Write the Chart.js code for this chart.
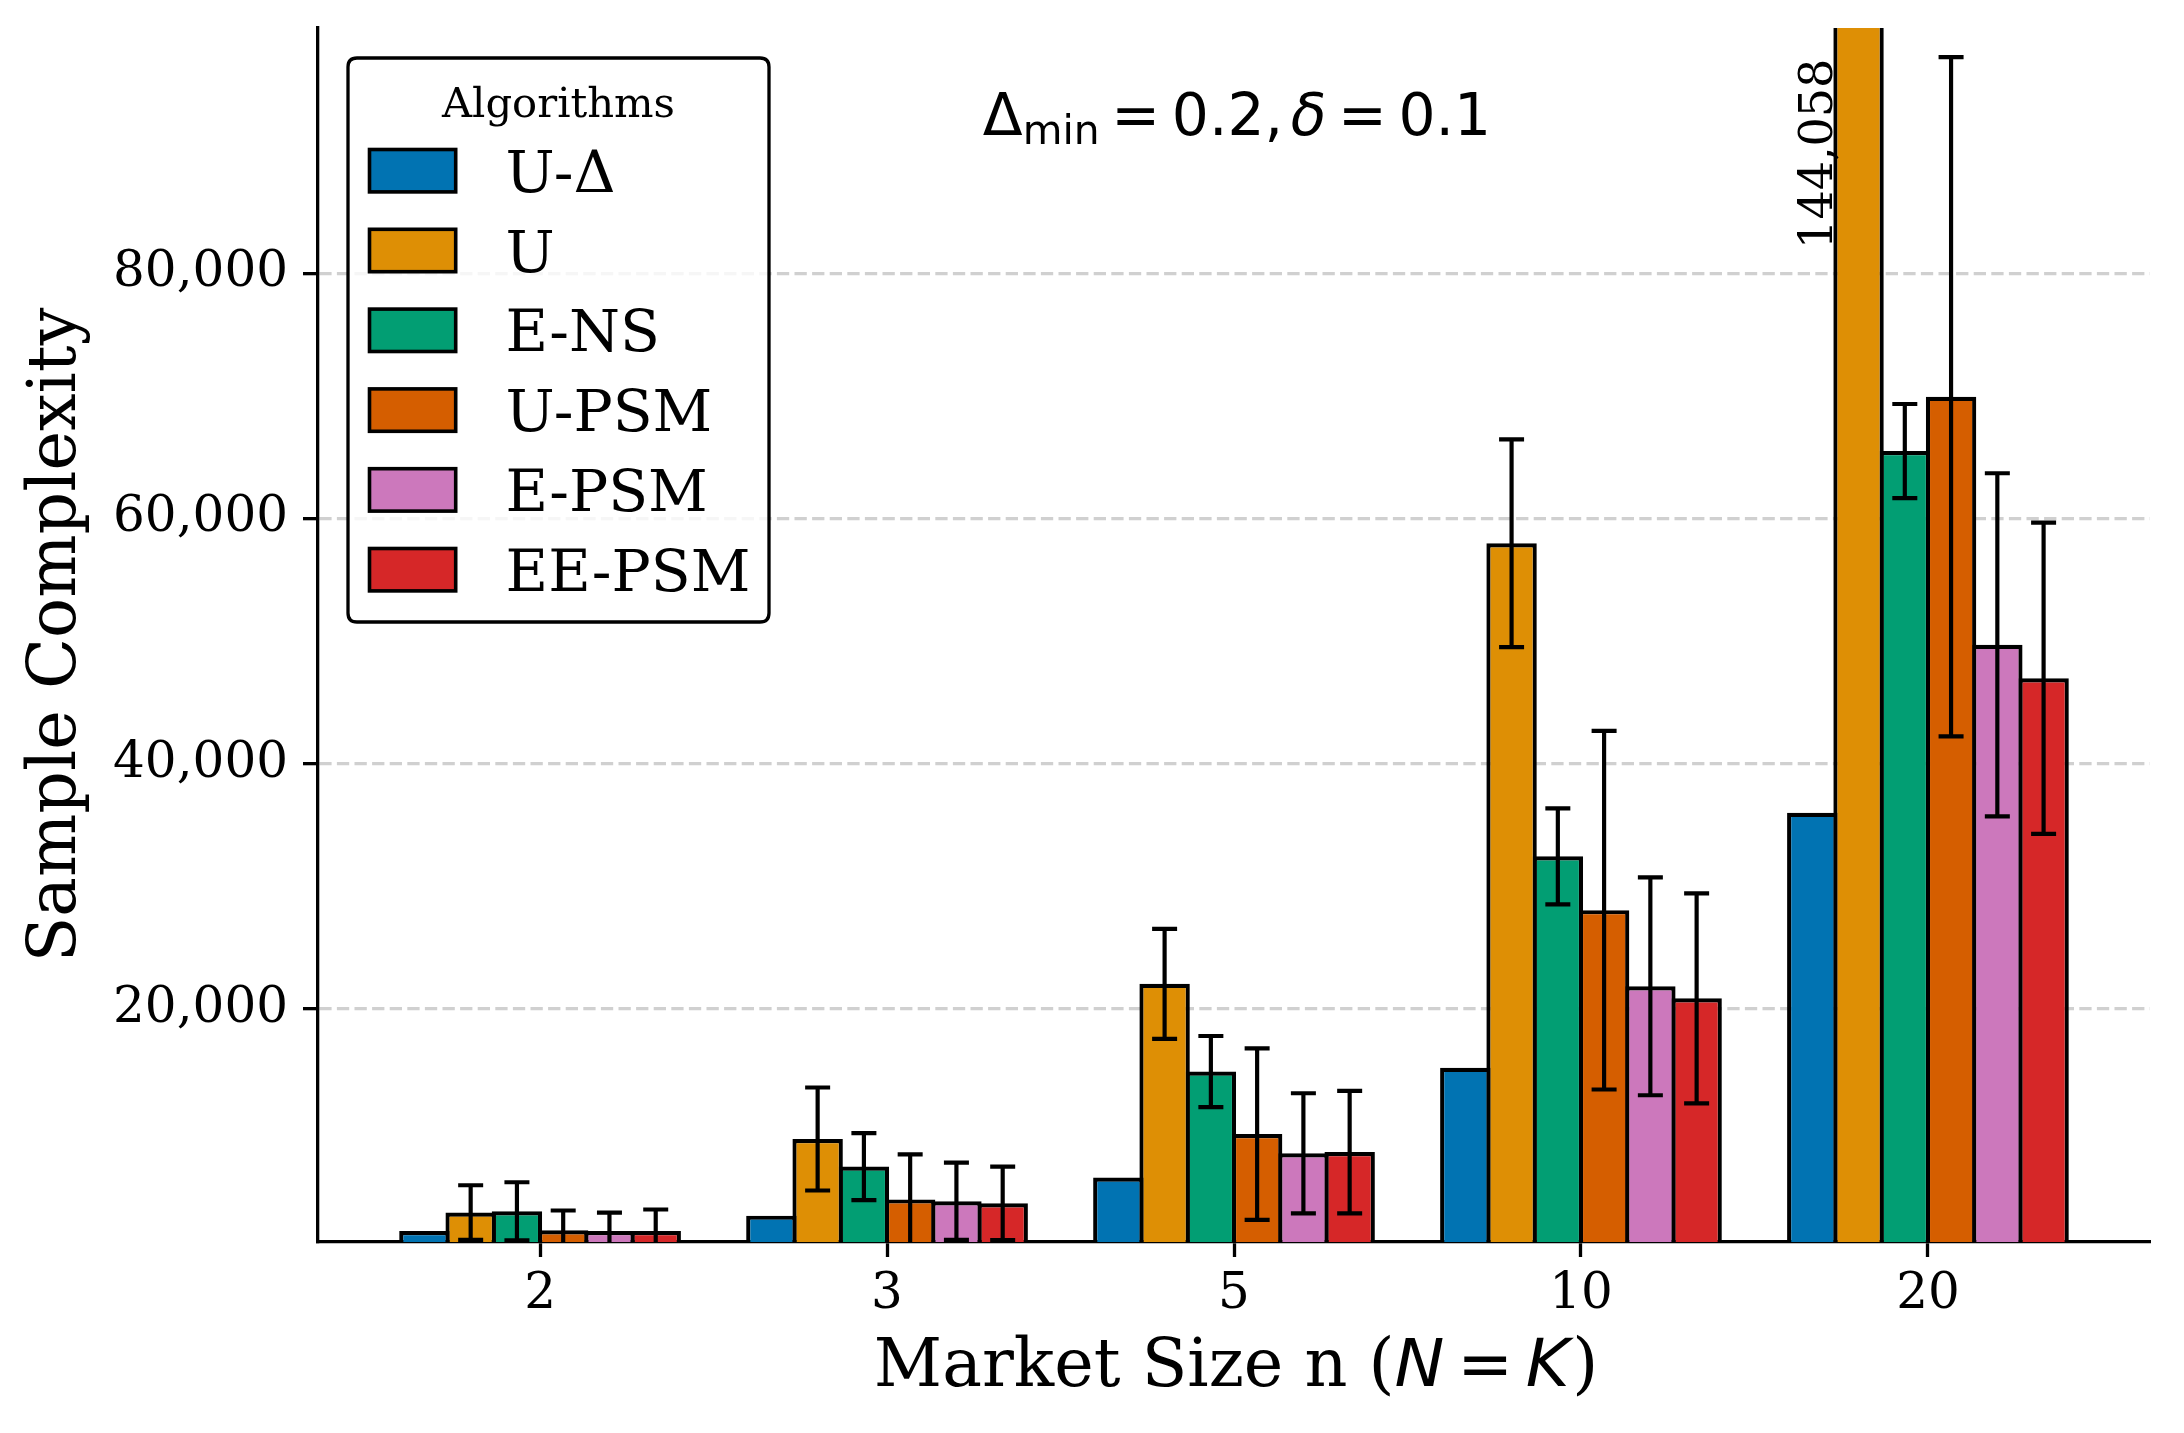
<!DOCTYPE html>
<html><head><meta charset="utf-8">
<script src="https://cdn.jsdelivr.net/npm/chart.js@4.4.1/dist/chart.umd.min.js"></script>
<style>html,body{margin:0;padding:0;background:#fff}#wrap{width:2184px;height:1433px}</style>
</head><body><div id="wrap"><canvas id="c" width="2184" height="1433"></canvas></div>
<script>
// ---- data ----
const categories = ['2', '3', '5', '10', '20'];
const seriesNames = ['U-Δ', 'U', 'E-NS', 'U-PSM', 'E-PSM', 'EE-PSM'];
const colors = ['#0173B2', '#DE8F05', '#029E73', '#D55E00', '#CC78BC', '#D62728'];
const uDeltaVals = [1900, 3150, 6250, 15200, 36000];
const uVals = [3400, 9400, 22050, 57980, 144058];
const uErr = [2230, 4200, 4490, 8475, 20000];
const ensVals = [3500, 7150, 14900, 32450, 65500];
const ensErr = [2370, 2735, 2900, 3915, 3835];
const upsmVals = [1950, 4470, 9800, 28060, 69930];
const upsmErr = [1620, 3670, 6990, 14625, 27700];
const epsmVals = [1900, 4320, 8230, 21850, 49700];
const epsmErr = [1500, 3150, 4900, 8885, 13990];
const eepsmVals = [1900, 4150, 8330, 20870, 46970];
const eepsmErr = [1750, 3000, 5000, 8565, 12690];
const yTicks = [20000, 40000, 60000, 80000];
const yMin = 1000, yMax = 100000;
const xMin = -0.64, xMax = 4.64;

const seriesValues = [uDeltaVals, uVals, ensVals, upsmVals, epsmVals, eepsmVals];
const seriesErrors = [null, uErr, ensErr, upsmErr, epsmErr, eepsmErr];

const SERIF = "'DejaVu Serif', serif";
const SANS = "'DejaVu Sans', sans-serif";
const BW = 4.17;           // bar edge width
const GROUP = 0.8;         // group fraction
const slotFrac = GROUP / seriesNames.length;

const datasets = seriesNames.map((name, s) => ({
  label: name,
  data: seriesValues[s].map((v, i) => ({ x: i, y: v })),
  errors: seriesErrors[s],
  backgroundColor: colors[s],
  borderColor: '#000',
  borderWidth: BW,
  inflateAmount: 0,
  categoryPercentage: GROUP,
  barPercentage: 1.09,
  clip: 0
}));

// ---- plugins ----
const errorBars = {
  id: 'errorBars',
  afterDatasetsDraw(chart) {
    const { ctx, chartArea: ca, scales: { x, y } } = chart;
    ctx.save();
    ctx.beginPath();
    ctx.rect(ca.left, ca.top, ca.right - ca.left, ca.bottom - ca.top);
    ctx.clip();
    ctx.strokeStyle = '#000';
    ctx.lineWidth = BW;
    const cap = 12.5;
    chart.data.datasets.forEach((ds, di) => {
      if (!ds.errors) return;
      const meta = chart.getDatasetMeta(di);
      meta.data.forEach((bar, i) => {
        const v = ds.data[i].y, e = ds.errors[i];
        const hi = y.getPixelForValue(v + e), lo = y.getPixelForValue(v - e);
        ctx.beginPath();
        ctx.moveTo(bar.x, lo); ctx.lineTo(bar.x, hi);
        ctx.moveTo(bar.x - cap, lo); ctx.lineTo(bar.x + cap, lo);
        ctx.moveTo(bar.x - cap, hi); ctx.lineTo(bar.x + cap, hi);
        ctx.stroke();
      });
    });
    ctx.restore();
    // labels for bars exceeding the axis
    ctx.save();
    ctx.fillStyle = '#000';
    ctx.font = '46px ' + SERIF;
    const slotPx = Math.abs(x.getPixelForValue(slotFrac) - x.getPixelForValue(0));
    chart.data.datasets.forEach((ds, di) => {
      const meta = chart.getDatasetMeta(di);
      meta.data.forEach((bar, i) => {
        const v = ds.data[i].y;
        if (v > yMax) {
          const bx = bar.x - slotPx / 2 - 3;
          const by = y.getPixelForValue(yMax * 0.975);
          ctx.save();
          ctx.translate(bx, by);
          ctx.rotate(-Math.PI / 2);
          ctx.textAlign = 'right';
          ctx.textBaseline = 'alphabetic';
          ctx.fillText(v.toLocaleString('en-US'), 0, 0);
          ctx.restore();
        }
      });
    });
    ctx.restore();
  }
};

function drawPieces(ctx, pieces, cx, baseline) {
  let total = 0;
  pieces.forEach(p => { ctx.font = p.font; p.w = ctx.measureText(p.text).width; total += (p.gap || 0) + p.w; });
  let xx = cx - total / 2;
  pieces.forEach(p => {
    xx += p.gap || 0;
    ctx.font = p.font;
    ctx.fillText(p.text, xx, baseline + (p.dy || 0));
    xx += p.w;
  });
}

const overlay = {
  id: 'overlay',
  afterDraw(chart) {
    const { ctx, chartArea: ca } = chart;
    ctx.save();
    ctx.fillStyle = '#000';
    ctx.textAlign = 'left';
    ctx.textBaseline = 'alphabetic';
    const cx = (ca.left + ca.right) / 2;
    // annotation
    const F = 58.3;
    drawPieces(ctx, [
      { text: 'Δ', font: `${F}px ${SANS}` },
      { text: 'min', font: `${F * 0.7}px ${SANS}`, dy: 9 },
      { text: '=', font: `${F}px ${SANS}`, gap: 0.2 * F },
      { text: '0.2,', font: `${F}px ${SANS}`, gap: 0.2 * F },
      { text: 'δ', font: `italic ${F}px ${SANS}`, gap: 0.13 * F },
      { text: '=', font: `${F}px ${SANS}`, gap: 0.2 * F },
      { text: '0.1', font: `${F}px ${SANS}`, gap: 0.2 * F }
    ], cx + 3, ca.top + 107);
    // x axis title
    const G = 66.7;
    drawPieces(ctx, [
      { text: 'Market Size n (', font: `${G}px ${SERIF}` },
      { text: 'N', font: `italic ${G}px ${SANS}` },
      { text: '=', font: `${G}px ${SANS}`, gap: 0.19 * G },
      { text: 'K', font: `italic ${G}px ${SANS}`, gap: 0.19 * G },
      { text: ')', font: `${G}px ${SERIF}`, gap: 0.04 * G }
    ], cx + 2, ca.bottom + 144);

    // legend
    const lx = ca.left + 30, ly = ca.top + 30, lw = 421, lh = 564, r = 9;
    ctx.beginPath();
    ctx.moveTo(lx + r, ly);
    ctx.lineTo(lx + lw - r, ly); ctx.quadraticCurveTo(lx + lw, ly, lx + lw, ly + r);
    ctx.lineTo(lx + lw, ly + lh - r); ctx.quadraticCurveTo(lx + lw, ly + lh, lx + lw - r, ly + lh);
    ctx.lineTo(lx + r, ly + lh); ctx.quadraticCurveTo(lx, ly + lh, lx, ly + lh - r);
    ctx.lineTo(lx, ly + r); ctx.quadraticCurveTo(lx, ly, lx + r, ly);
    ctx.closePath();
    ctx.fillStyle = 'rgba(255,255,255,0.8)';
    ctx.fill();
    ctx.strokeStyle = '#000';
    ctx.lineWidth = 3.3;
    ctx.stroke();
    ctx.fillStyle = '#000';
    ctx.font = `41.7px ${SERIF}`;
    ctx.textAlign = 'center';
    ctx.fillText('Algorithms', lx + lw / 2, ly + 58.5);
    ctx.textAlign = 'left';
    ctx.font = `58.3px ${SERIF}`;
    chart.data.datasets.forEach((ds, i) => {
      const cy = ly + 112.7 + i * 79.8;
      ctx.fillStyle = ds.backgroundColor;
      ctx.fillRect(lx + 21.5, cy - 21.2, 86.2, 42.4);
      ctx.strokeStyle = '#000';
      ctx.lineWidth = 3.6;
      ctx.strokeRect(lx + 21.5, cy - 21.2, 86.2, 42.4);
      ctx.fillStyle = '#000';
      ctx.fillText(ds.label, lx + 157.6, cy + 21);
    });
    ctx.restore();
  }
};

new Chart(document.getElementById('c'), {
  type: 'bar',
  data: { datasets },
  options: {
    responsive: false,
    devicePixelRatio: 1,
    animation: false,
    layout: { padding: { top: 28, right: 34, bottom: 0, left: 0 } },
    plugins: { legend: { display: false }, tooltip: { enabled: false }, title: { display: false } },
    scales: {
      x: {
        type: 'linear',
        offset: false,
        min: xMin,
        max: xMax,
        afterBuildTicks: s => { s.ticks = categories.map((_, i) => ({ value: i })); },
        afterFit: s => { s.height = 191; s.paddingLeft = 0; s.paddingRight = 0; },
        ticks: {
          autoSkip: false, maxRotation: 0, minRotation: 0,
          color: '#000', padding: 8,
          font: { family: SERIF, size: 50 },
          callback: v => categories[v]
        },
        grid: {
          display: true, offset: false, drawOnChartArea: false, drawTicks: true,
          tickLength: 15, tickColor: '#000', tickWidth: 3.3
        },
        border: { display: true, color: '#000', width: 3.3 },
        title: { display: false }
      },
      y: {
        type: 'linear',
        min: yMin,
        max: yMax,
        afterBuildTicks: s => { s.ticks = yTicks.map(v => ({ value: v })); },
        afterFit: s => { s.width = 318; s.paddingTop = 0; s.paddingBottom = 0; },
        ticks: {
          color: '#000', padding: 15,
          font: { family: SERIF, size: 50 },
          callback: v => Number(v).toLocaleString('en-US')
        },
        grid: {
          display: true, drawOnChartArea: true, drawTicks: true,
          color: '#d0d0d0', lineWidth: 3.3,
          tickLength: 15, tickColor: '#000', tickWidth: 3.3, tickBorderDash: []
        },
        border: { display: true, color: '#000', width: 3.3, dash: [12.3, 5.3] },
        title: {
          display: true, text: 'Sample Complexity', color: '#000',
          font: { family: SERIF, size: 66.7 },
          padding: { top: 18, bottom: 0 }
        }
      }
    }
  },
  plugins: [errorBars, overlay]
});
</script>
</body></html>
